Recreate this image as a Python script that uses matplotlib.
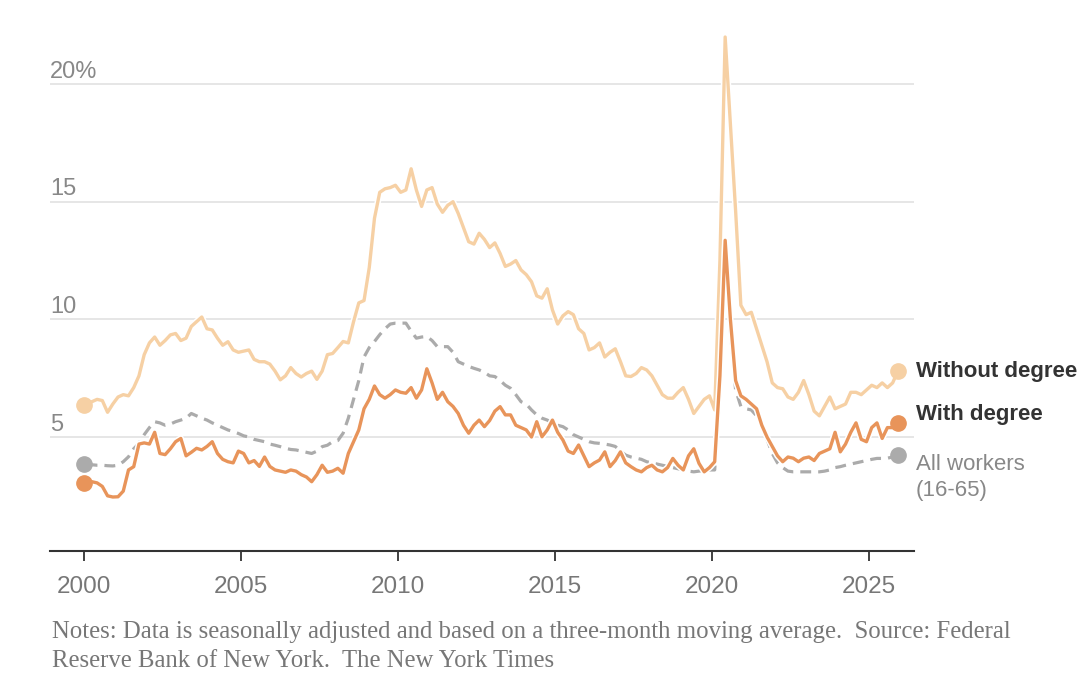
import numpy as np
import matplotlib
matplotlib.use("Agg")
import matplotlib.pyplot as plt
import matplotlib.patheffects as pe

# unemployment rate, %, every second month (Feb, Apr, ... Dec) from 2000 to 2025
without_degree = [
    6.35, 6.5, 6.6, 6.55, 6.05, 6.4,
    6.7, 6.8, 6.75, 7.1, 7.6, 8.5,
    9.0, 9.25, 8.9, 9.1, 9.34, 9.4,
    9.1, 9.2, 9.7, 9.9, 10.1, 9.6,
    9.55, 9.2, 8.9, 9.05, 8.7, 8.6,
    8.65, 8.7, 8.3, 8.2, 8.2, 8.1,
    7.8, 7.43, 7.6, 7.95, 7.7, 7.55,
    7.7, 7.8, 7.45, 7.8, 8.5, 8.55,
    8.8, 9.06, 9.0, 9.9, 10.7, 10.8,
    12.2, 14.3, 15.4, 15.55, 15.6, 15.7,
    15.4, 15.5, 16.4, 15.5, 14.8, 15.5,
    15.6, 14.9, 14.55, 14.85, 15.0, 14.5,
    13.9, 13.3, 13.2, 13.66, 13.4, 13.05,
    13.25, 12.8, 12.25, 12.35, 12.5, 12.1,
    11.9, 11.6, 11.0, 10.9, 11.3, 10.4,
    9.8, 10.15, 10.33, 10.2, 9.6, 9.4,
    8.7, 8.8, 9.0, 8.4, 8.6, 8.75,
    8.2, 7.6, 7.57, 7.7, 7.95, 7.85,
    7.6, 7.2, 6.8, 6.65, 6.65, 6.9,
    7.1, 6.6, 6.0, 6.3, 6.6, 6.75,
    6.15, 12.5, 22.0, 18.3, 14.6, 10.6,
    10.2, 10.3, 9.6, 8.9, 8.2, 7.3,
    7.1, 7.05, 6.7, 6.6, 6.9, 7.4,
    6.8, 6.1, 5.9, 6.3, 6.7, 6.2,
    6.3, 6.4, 6.9, 6.9, 6.8, 7.0,
    7.2, 7.1, 7.3, 7.1, 7.3, 7.8,
]

with_degree = [
    3.05, 3.1, 3.05, 2.9, 2.5, 2.45,
    2.46, 2.7, 3.6, 3.74, 4.7, 4.75,
    4.7, 5.2, 4.3, 4.25, 4.5, 4.8,
    4.94, 4.2, 4.35, 4.52, 4.45, 4.6,
    4.8, 4.3, 4.05, 3.95, 3.9, 4.4,
    4.3, 3.9, 4.0, 3.75, 4.15, 3.75,
    3.6, 3.55, 3.5, 3.6, 3.55, 3.4,
    3.3, 3.1, 3.4, 3.8, 3.5, 3.55,
    3.67, 3.46, 4.3, 4.8, 5.3, 6.2,
    6.6, 7.17, 6.8, 6.65, 6.8, 7.0,
    6.9, 6.86, 7.1, 6.65, 7.0, 7.9,
    7.3, 6.6, 6.9, 6.5, 6.3, 6.0,
    5.5, 5.16, 5.5, 5.72, 5.44, 5.7,
    6.1, 6.29, 5.94, 5.94, 5.5, 5.4,
    5.3, 5.0, 5.65, 5.01, 5.3, 5.72,
    5.2, 4.87, 4.4, 4.3, 4.66, 4.2,
    3.74, 3.9, 4.02, 4.37, 3.74, 4.0,
    4.37, 3.9, 3.74, 3.6, 3.52, 3.7,
    3.8, 3.6, 3.52, 3.7, 4.09, 3.8,
    3.6, 4.2, 4.5, 3.88, 3.52, 3.7,
    3.95, 7.6, 13.36, 10.0, 7.4, 6.75,
    6.6, 6.4, 6.2, 5.5, 5.0, 4.6,
    4.2, 3.95, 4.15, 4.1, 3.95, 4.1,
    4.15, 4.0, 4.3, 4.4, 4.5, 5.2,
    4.37, 4.7, 5.2, 5.6, 4.9, 4.8,
    5.4, 5.6, 4.94, 5.4, 5.4, 5.58,
]

all_workers = [
    3.85, 3.82, 3.8, 3.8, 3.78, 3.77,
    3.8, 3.95, 4.16, 4.5, 4.73, 5.1,
    5.4, 5.65, 5.6, 5.5, 5.55, 5.65,
    5.72, 5.8, 6.0, 5.9, 5.8, 5.72,
    5.6, 5.5, 5.4, 5.3, 5.23, 5.15,
    5.05, 5.0, 4.9, 4.85, 4.8, 4.7,
    4.65, 4.59, 4.52, 4.47, 4.45, 4.4,
    4.35, 4.3, 4.4, 4.59, 4.65, 4.8,
    4.85, 5.16, 5.8, 6.6, 7.4, 8.4,
    8.8, 9.06, 9.35, 9.6, 9.8, 9.84,
    9.84, 9.84, 9.5, 9.2, 9.25, 9.27,
    9.1, 8.84, 8.84, 8.84, 8.6, 8.2,
    8.1, 8.0, 7.92, 7.85, 7.75, 7.6,
    7.57, 7.4, 7.2, 7.07, 6.8, 6.5,
    6.4, 6.15, 5.94, 5.8, 5.72, 5.6,
    5.5, 5.44, 5.3, 5.1, 5.0, 4.9,
    4.8, 4.75, 4.73, 4.7, 4.66, 4.6,
    4.4, 4.23, 4.15, 4.1, 4.05, 3.95,
    3.9, 3.85, 3.8, 3.75, 3.7, 3.65,
    3.6, 3.55, 3.52, 3.55, 3.58, 3.6,
    3.6, 7.0, 13.0, 9.5, 7.0, 6.3,
    6.2, 6.15, 5.9, 5.5, 4.9, 4.3,
    3.9, 3.7, 3.55, 3.52, 3.52, 3.52,
    3.52, 3.52, 3.52, 3.55, 3.6, 3.7,
    3.74, 3.8, 3.85, 3.9, 3.95, 4.0,
    4.05, 4.09, 4.09, 4.1, 4.15, 4.23,
]

dates = 2000 + (2 * np.arange(len(without_degree)) + 1) / 12
year_ticks = [2000, 2005, 2010, 2015, 2020, 2025]
y_ticks = [5, 10, 15, 20]
y_labels = ["5", "10", "15", "20%"]

light = "#f6d0a4"
dark = "#e8945a"
grey = "#ababab"
sans = ["Liberation Sans", "DejaVu Sans"]
serif = ["Liberation Serif", "DejaVu Serif"]

fig = plt.figure(figsize=(10.8, 6.9), dpi=100)
ax = fig.add_axes([50 / 1080, 1 - 551 / 690, 864 / 1080, 537.5 / 690])
ax.set_xlim(1998.917, 2026.43)
ax.set_ylim(0.155, 23)

for v in y_ticks:
    ax.axhline(v, color="#e2e2e2", lw=1.2, zorder=0)

halo = [pe.Stroke(linewidth=4.6, foreground="white"), pe.Normal()]
ax.plot(dates, all_workers, color=grey, lw=2.3, dashes=(3.4, 2.2), zorder=2)
ax.plot(dates, without_degree, color=light, lw=2.4, zorder=3,
        path_effects=halo, solid_joinstyle="round")
ax.plot(dates, with_degree, color=dark, lw=2.4, zorder=4,
        path_effects=halo, solid_joinstyle="round")

for s, c in [(all_workers, grey), (without_degree, light), (with_degree, dark)]:
    ax.plot([dates[0] - 1 / 12, dates[-1]], [s[0], s[-1]], ls="none",
            marker="o", ms=11, color=c, zorder=5)

ax.annotate("Without degree", (dates[-1], without_degree[-1]), xytext=(13, 0),
            textcoords="offset points", va="center", ha="left", fontsize=16,
            fontweight="bold", color="#333333", family=sans, annotation_clip=False)
ax.annotate("With degree", (dates[-1], with_degree[-1]), xytext=(13, 6.5),
            textcoords="offset points", va="center", ha="left", fontsize=16,
            fontweight="bold", color="#333333", family=sans, annotation_clip=False)
ax.annotate("All workers\n(16-65)", (dates[-1], all_workers[-1]), xytext=(13, 1),
            textcoords="offset points", va="top", ha="left", fontsize=16,
            color="#888888", family=sans, linespacing=1.3, annotation_clip=False)

for v, lab in zip(y_ticks, y_labels):
    ax.annotate(lab, (0, v), xycoords=("axes fraction", "data"), xytext=(0, 1),
                textcoords="offset points", va="bottom", ha="left", fontsize=17,
                color="#888888", family=sans)

ax.set_yticks([])
ax.set_xticks(year_ticks)
ax.set_xticklabels([str(y) for y in year_ticks], fontsize=17.5, color="#777777",
                   family=sans)
ax.tick_params(axis="x", length=7, width=1.3, color="#333333", pad=11)
for side in ["top", "right", "left"]:
    ax.spines[side].set_visible(False)
ax.spines["bottom"].set_color("#333333")
ax.spines["bottom"].set_linewidth(1.5)

fig.text(52 / 1080, 1 - 632 / 690,
         "Notes: Data is seasonally adjusted and based on a three-month moving average.  Source: Federal",
         fontsize=17.8, color="#777777", family=serif, va="center")
fig.text(52 / 1080, 1 - 661 / 690, "Reserve Bank of New York.  The New York Times",
         fontsize=17.8, color="#777777", family=serif, va="center")

fig.savefig("out.png", dpi=100)
